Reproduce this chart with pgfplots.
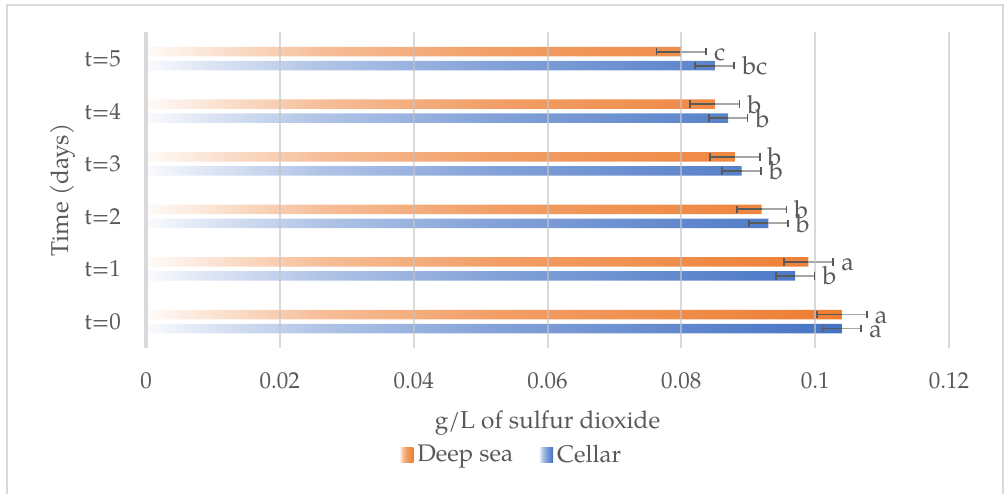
\documentclass[border=0pt]{standalone}
\usepackage{fontspec}
\setmainfont{TeX Gyre Pagella}
\usepackage{pgfplots}
\pgfplotsset{compat=1.18}
\usepackage{pgfplotstable}
\definecolor{orangeC}{HTML}{ED7D31}
\definecolor{blueC}{HTML}{4472C4}
\definecolor{textC}{HTML}{595959}
\definecolor{gridC}{HTML}{D9D9D9}
\definecolor{gridD}{HTML}{C4C4C4}
\definecolor{errD}{HTML}{595959}
\definecolor{errL}{HTML}{A6A6A6}

\pgfdeclarehorizontalshading{orangegrad}{100bp}{color(0bp)=(orangeC!3); color(25bp)=(orangeC!3);
  color(30bp)=(orangeC!22); color(37.5bp)=(orangeC!50); color(50bp)=(orangeC!74);
  color(75bp)=(orangeC); color(100bp)=(orangeC)}
\pgfdeclarehorizontalshading{bluegrad}{100bp}{color(0bp)=(blueC!3); color(25bp)=(blueC!3);
  color(30bp)=(blueC!20); color(37.5bp)=(blueC!42); color(50bp)=(blueC!66);
  color(75bp)=(blueC); color(100bp)=(blueC)}

% t, value, error
\pgfplotstableread{
t  v       e
0  0.1040  0.0037
1  0.0990  0.0037
2  0.0920  0.0037
3  0.0880  0.0037
4  0.0850  0.0037
5  0.0800  0.0037
}\deepsea
\pgfplotstableread{
t  v       e
0  0.1040  0.0029
1  0.0970  0.0029
2  0.0930  0.0029
3  0.0890  0.0029
4  0.0870  0.0029
5  0.0850  0.0029
}\cellar
% letter positions (end of error bar) and letters
\pgfplotstableread{
t  x       l
0  0.1077  a
1  0.1027  a
2  0.0957  b
3  0.0917  b
4  0.0887  b
5  0.0837  c
}\deepsealab
\pgfplotstableread{
t  x       l
0  0.1069  a
1  0.0999  b
2  0.0959  b
3  0.0919  b
4  0.0899  b
5  0.0879  bc
}\cellarlab

\pgfplotsset{
  errplus/.style={draw=none, mark=none, forget plot,
    error bars/.cd, x dir=plus, x explicit, error mark=none,
    error bar style={line width=0.9pt, draw=errL}},
  errminus/.style={draw=none, mark=none, forget plot,
    error bars/.cd, x dir=minus, x explicit, error mark=none,
    error bar style={line width=0.9pt, draw=errD}},
  errcap/.style={only marks, mark=|, mark size=1.9pt, forget plot,
    mark options={draw=errD, line width=0.9pt}},
}

\begin{document}
\begin{tikzpicture}
\path[use as bounding box] (0,0) rectangle (502.5pt,246.5pt);
\draw[line width=1pt, color=gridC] (3.5pt,-3pt) -- (3.5pt,244pt) -- (501.5pt,244pt) -- (501.5pt,-3pt);
\begin{axis}[
  at={(73pt,72.6pt)}, anchor=south west,
  scale only axis, width=401.5pt, height=157.7pt,
  xmin=0, xmax=0.12, ymin=-0.5, ymax=5.5,
  xtick={0,0.02,0.04,0.06,0.08,0.1,0.12},
  xticklabels={0,0.02,0.04,0.06,0.08,0.1,0.12},
  ytick={0,1,2,3,4,5},
  yticklabels={t=0,t=1,t=2,t=3,t=4,t=5},
  axis on top,
  axis lines*=left,
  x axis line style={draw=none},
  y axis line style={line width=1.6pt, color=gridC},
  major tick length=0pt,
  xmajorgrids, major grid style={line width=1pt, color=gridD, opacity=0.65},
  tick label style={font=\fontsize{11.5}{13}\selectfont, text=textC},
  xticklabel shift=9pt,
  yticklabel shift=9pt,
  xlabel={g/L of sulfur dioxide},
  ylabel={Time (days)},
  every axis x label/.style={at={(axis description cs:0.5,-0.2384)}, anchor=center,
    font=\fontsize{12.2}{14}\selectfont, text=textC},
  every axis y label/.style={at={(axis description cs:-0.1034,0.5)}, rotate=90, anchor=center,
    font=\fontsize{12.2}{14}\selectfont, text=textC},
  legend columns=2,
  legend style={draw=none, fill=none, at={(axis description cs:0.456,-0.340)}, anchor=center,
    font=\fontsize{12}{14}\selectfont, text=textC,
    /tikz/every even column/.append style={column sep=11pt}},
]
% Deep sea bars
\addplot[xbar, bar width=4.75pt, bar shift=3.5pt, draw=none, shading=orangegrad,
  legend image code/.code={\path[shading=orangegrad] (-1.5pt,-3.75pt) rectangle (5.5pt,3.75pt);}]
  table[x=v, y=t] {\deepsea};
\addlegendentry{Deep sea}
% Cellar bars
\addplot[xbar, bar width=4.75pt, bar shift=-3.5pt, draw=none, shading=bluegrad,
  legend image code/.code={\path[shading=bluegrad] (-1.5pt,-3.75pt) rectangle (5.5pt,3.75pt);}]
  table[x=v, y=t] {\cellar};
\addlegendentry{Cellar}
% error bars: plus part (light line), minus part (dark line)
\addplot[errplus]  table[x=v, y expr=\thisrow{t}+0.1332, x error=e] {\deepsea};
\addplot[errplus]  table[x=v, y expr=\thisrow{t}-0.1332, x error=e] {\cellar};
\addplot[errminus] table[x=v, y expr=\thisrow{t}+0.1332, x error=e] {\deepsea};
\addplot[errminus] table[x=v, y expr=\thisrow{t}-0.1332, x error=e] {\cellar};
% error bar caps
\addplot[errcap] table[x expr=\thisrow{v}+\thisrow{e}, y expr=\thisrow{t}+0.1332] {\deepsea};
\addplot[errcap] table[x expr=\thisrow{v}-\thisrow{e}, y expr=\thisrow{t}+0.1332] {\deepsea};
\addplot[errcap] table[x expr=\thisrow{v}+\thisrow{e}, y expr=\thisrow{t}-0.1332] {\cellar};
\addplot[errcap] table[x expr=\thisrow{v}-\thisrow{e}, y expr=\thisrow{t}-0.1332] {\cellar};
% letters
\addplot[draw=none, mark=none, forget plot, nodes near coords, point meta=explicit symbolic,
  every node near coord/.append style={anchor=base west, yshift=-1pt, xshift=0.5pt,
    font=\fontsize{12.5}{14}\selectfont, text=textC}]
  table[x=x, y=t, meta=l] {\deepsealab};
\addplot[draw=none, mark=none, forget plot, nodes near coords, point meta=explicit symbolic,
  every node near coord/.append style={anchor=base west, yshift=-8pt, xshift=0.5pt,
    font=\fontsize{12.5}{14}\selectfont, text=textC}]
  table[x=x, y=t, meta=l] {\cellarlab};
\end{axis}
\end{tikzpicture}
\end{document}
